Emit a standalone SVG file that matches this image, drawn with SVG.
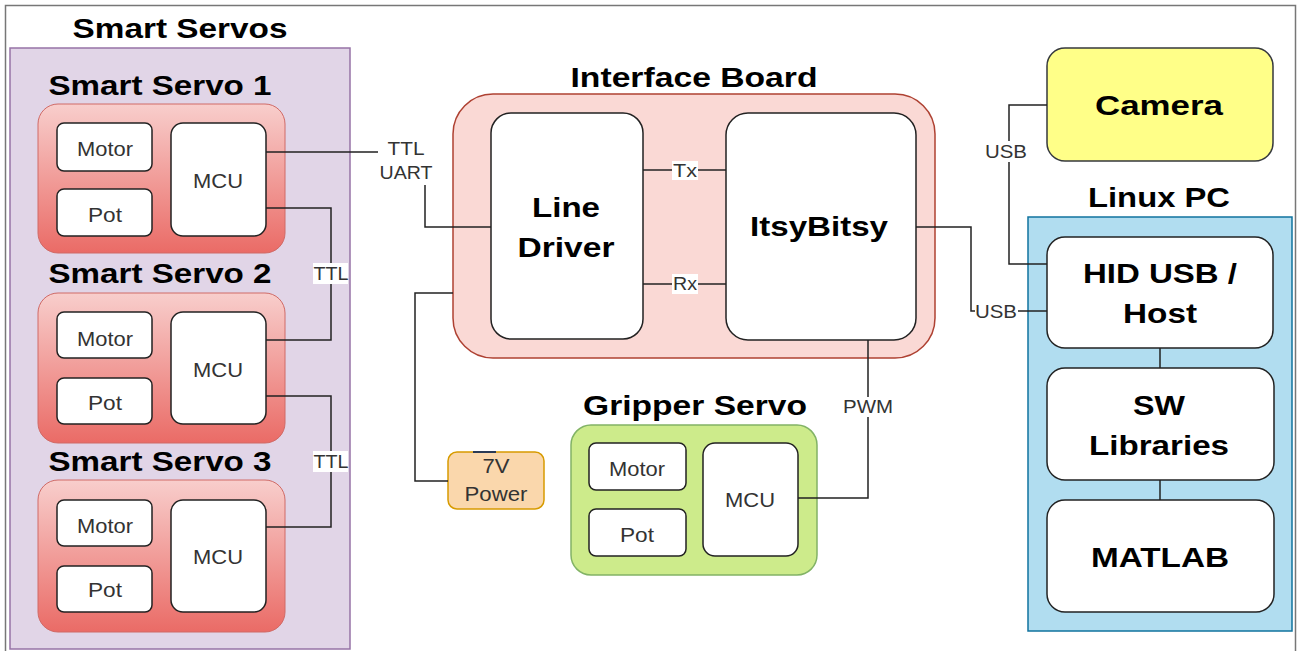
<svg xmlns="http://www.w3.org/2000/svg" width="1297" height="651" viewBox="0 0 1297 651">
<defs>
<linearGradient id="redGrad" x1="0" y1="0" x2="0" y2="1">
<stop offset="0" stop-color="#f8cecc"/>
<stop offset="1" stop-color="#ea6b66"/>
</linearGradient>
<style>
.frame{fill:#fff;stroke:#777;stroke-width:1.5}
.purple{fill:#e1d5e7;stroke:#9673a6;stroke-width:1.5}
.servo{fill:url(#redGrad);stroke:#d06a66;stroke-width:1}
.inner{fill:#fff;stroke:#222;stroke-width:1.5}
.board{fill:#fad9d5;stroke:#ae4132;stroke-width:1.5}
.green{fill:#cdeb8b;stroke:#82b366;stroke-width:1.5}
.orange{fill:#fad7ac;stroke:#d79b00;stroke-width:1.5}
.yellow{fill:#ffff88;stroke:#36393d;stroke-width:1.5}
.blue{fill:#b1ddf0;stroke:#10739e;stroke-width:1.5}
.wire{fill:none;stroke:#222;stroke-width:1.5}
.lblbg{fill:#fff;stroke:none}
.h{font-family:"Liberation Sans",Arial,sans-serif;font-weight:bold;font-size:28px;fill:#000;text-anchor:middle}
.t{font-family:"Liberation Sans",Arial,sans-serif;font-size:21px;fill:#333;text-anchor:middle}
.e{font-family:"Liberation Sans",Arial,sans-serif;font-size:18px;fill:#333;text-anchor:middle}
</style>
</defs>
<rect class="frame" x="5.5" y="5.5" width="1290" height="660"/>

<g id="smart-servos">
<rect class="purple" x="10" y="48" width="340" height="601"/>
<text class="h" x="180" y="38" textLength="215" lengthAdjust="spacingAndGlyphs">Smart Servos</text>
</g>

<g id="servo1">
<text class="h" x="160" y="95" textLength="223" lengthAdjust="spacingAndGlyphs">Smart Servo 1</text>
<rect class="servo" x="38" y="104" width="247" height="149" rx="20"/>
<rect class="inner" x="57" y="123" width="95" height="48" rx="7"/>
<text class="t" x="105" y="156" textLength="56" lengthAdjust="spacingAndGlyphs">Motor</text>
<rect class="inner" x="57" y="189" width="95" height="47" rx="7"/>
<text class="t" x="105" y="222" textLength="34" lengthAdjust="spacingAndGlyphs">Pot</text>
<rect class="inner" x="171" y="123" width="95" height="113" rx="12"/>
<text class="t" x="218" y="188" textLength="50" lengthAdjust="spacingAndGlyphs">MCU</text>
</g>

<g id="servo2">
<text class="h" x="160" y="283" textLength="223" lengthAdjust="spacingAndGlyphs">Smart Servo 2</text>
<rect class="servo" x="38" y="293" width="247" height="150" rx="20"/>
<rect class="inner" x="57" y="312" width="95" height="46" rx="7"/>
<text class="t" x="105" y="346" textLength="56" lengthAdjust="spacingAndGlyphs">Motor</text>
<rect class="inner" x="57" y="378" width="95" height="46" rx="7"/>
<text class="t" x="105" y="410" textLength="34" lengthAdjust="spacingAndGlyphs">Pot</text>
<rect class="inner" x="171" y="312" width="95" height="112" rx="12"/>
<text class="t" x="218" y="377" textLength="50" lengthAdjust="spacingAndGlyphs">MCU</text>
</g>

<g id="servo3">
<text class="h" x="160" y="471" textLength="223" lengthAdjust="spacingAndGlyphs">Smart Servo 3</text>
<rect class="servo" x="38" y="480" width="247" height="152" rx="20"/>
<rect class="inner" x="57" y="500" width="95" height="46" rx="7"/>
<text class="t" x="105" y="533" textLength="56" lengthAdjust="spacingAndGlyphs">Motor</text>
<rect class="inner" x="57" y="566" width="95" height="46" rx="7"/>
<text class="t" x="105" y="597" textLength="34" lengthAdjust="spacingAndGlyphs">Pot</text>
<rect class="inner" x="171" y="500" width="95" height="112" rx="12"/>
<text class="t" x="218" y="564" textLength="50" lengthAdjust="spacingAndGlyphs">MCU</text>
</g>

<g id="interface-board">
<rect class="board" x="453" y="94" width="482" height="264" rx="40"/>
<text class="h" x="694" y="87" textLength="247" lengthAdjust="spacingAndGlyphs">Interface Board</text>
</g>

<g id="line-driver">
<rect class="inner" x="491" y="113" width="152" height="226" rx="20"/>
<text class="h" x="566" y="217" textLength="68" lengthAdjust="spacingAndGlyphs">Line</text>
<text class="h" x="566" y="257" textLength="97" lengthAdjust="spacingAndGlyphs">Driver</text>
</g>

<g id="itsybitsy">
<rect class="inner" x="726" y="113" width="190" height="227" rx="22"/>
<text class="h" x="819" y="236" textLength="138" lengthAdjust="spacingAndGlyphs">ItsyBitsy</text>
</g>

<g id="power">
<rect class="orange" x="448" y="452" width="96" height="57" rx="9"/>
<text class="t" x="496" y="473" textLength="27" lengthAdjust="spacingAndGlyphs">7V</text>
<text class="t" x="496" y="501" textLength="63" lengthAdjust="spacingAndGlyphs">Power</text>
</g>

<g id="gripper-servo">
<text class="h" x="695" y="415" textLength="224" lengthAdjust="spacingAndGlyphs">Gripper Servo</text>
<rect class="green" x="571" y="425" width="246" height="150" rx="20"/>
<rect class="inner" x="589" y="443" width="97" height="47" rx="7"/>
<text class="t" x="637" y="476" textLength="56" lengthAdjust="spacingAndGlyphs">Motor</text>
<rect class="inner" x="589" y="509" width="97" height="47" rx="7"/>
<text class="t" x="637" y="542" textLength="34" lengthAdjust="spacingAndGlyphs">Pot</text>
<rect class="inner" x="703" y="443" width="95" height="113" rx="12"/>
<text class="t" x="750" y="507" textLength="50" lengthAdjust="spacingAndGlyphs">MCU</text>
</g>

<g id="camera">
<rect class="yellow" x="1047" y="48" width="226" height="113" rx="18"/>
<text class="h" x="1159" y="115" textLength="128" lengthAdjust="spacingAndGlyphs">Camera</text>
</g>

<g id="linux-pc">
<rect class="blue" x="1028" y="217" width="264" height="414"/>
<text class="h" x="1159" y="207" textLength="142" lengthAdjust="spacingAndGlyphs">Linux PC</text>
</g>

<g id="hid-usb">
<rect class="inner" x="1047" y="237" width="226" height="111" rx="18"/>
<text class="h" x="1160" y="283" textLength="154" lengthAdjust="spacingAndGlyphs">HID USB /</text>
<text class="h" x="1160" y="323" textLength="74" lengthAdjust="spacingAndGlyphs">Host</text>
</g>

<g id="sw-libraries">
<rect class="inner" x="1047" y="368" width="227" height="112" rx="18"/>
<text class="h" x="1159" y="415" textLength="52" lengthAdjust="spacingAndGlyphs">SW</text>
<text class="h" x="1159" y="455" textLength="140" lengthAdjust="spacingAndGlyphs">Libraries</text>
</g>

<g id="matlab">
<rect class="inner" x="1047" y="500" width="227" height="112" rx="18"/>
<text class="h" x="1160" y="567" textLength="138" lengthAdjust="spacingAndGlyphs">MATLAB</text>
</g>

<g id="connectors">
<polyline class="wire" points="266,152 425,152 425,227 491,227"/>
<rect class="lblbg" x="378" y="138" width="58" height="47"/>
<text class="e" x="406" y="155" textLength="37" lengthAdjust="spacingAndGlyphs">TTL</text>
<text class="e" x="406" y="179" textLength="53" lengthAdjust="spacingAndGlyphs">UART</text>

<polyline class="wire" points="266,208 331,208 331,340 266,340"/>
<rect class="lblbg" x="313" y="263" width="35" height="21"/>
<text class="e" x="331" y="280" textLength="35" lengthAdjust="spacingAndGlyphs">TTL</text>

<polyline class="wire" points="266,396 331,396 331,527 266,527"/>
<rect class="lblbg" x="313" y="451" width="35" height="21"/>
<text class="e" x="331" y="468" textLength="35" lengthAdjust="spacingAndGlyphs">TTL</text>

<line class="wire" x1="643" y1="170" x2="726" y2="170"/>
<rect class="lblbg" x="672" y="161" width="26" height="19"/>
<text class="e" x="685" y="177" textLength="24" lengthAdjust="spacingAndGlyphs">Tx</text>

<line class="wire" x1="643" y1="284" x2="726" y2="284"/>
<rect class="lblbg" x="672" y="274" width="26" height="20"/>
<text class="e" x="685" y="290" textLength="24" lengthAdjust="spacingAndGlyphs">Rx</text>

<polyline class="wire" points="448,481 415,481 415,293 453,293"/>
<line x1="473" y1="452" x2="496" y2="452" stroke="#2a3a55" stroke-width="2"/>

<polyline class="wire" points="916,227 971,227 971,311 1047,311"/>
<rect class="lblbg" x="975" y="301" width="43" height="20"/>
<text class="e" x="996" y="318" textLength="42" lengthAdjust="spacingAndGlyphs">USB</text>

<polyline class="wire" points="1047,105 1009,105 1009,264 1047,264"/>
<rect class="lblbg" x="984" y="141" width="44" height="21"/>
<text class="e" x="1006" y="158" textLength="42" lengthAdjust="spacingAndGlyphs">USB</text>

<polyline class="wire" points="868,340 868,498 798,498"/>
<rect class="lblbg" x="842" y="397" width="52" height="20"/>
<text class="e" x="868" y="413" textLength="50" lengthAdjust="spacingAndGlyphs">PWM</text>

<line class="wire" x1="1160" y1="348" x2="1160" y2="368"/>
<line class="wire" x1="1160" y1="480" x2="1160" y2="500"/>
</g>
</svg>
